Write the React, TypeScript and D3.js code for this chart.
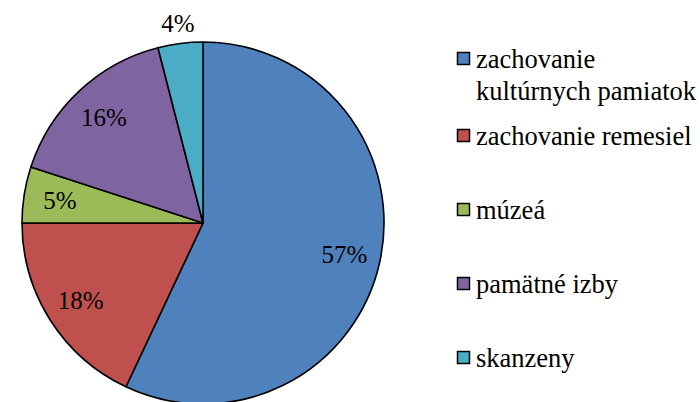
import React, { useEffect, useRef } from "react";
import * as d3 from "d3";

// chart data
const categories = [
  "zachovanie kultúrnych pamiatok",
  "zachovanie remesiel",
  "múzeá",
  "pamätné izby",
  "skanzeny",
];
const legendLines = [
  ["zachovanie", "kultúrnych pamiatok"],
  ["zachovanie remesiel"],
  ["múzeá"],
  ["pamätné izby"],
  ["skanzeny"],
];
const values = [57, 18, 5, 16, 4];
const colors = ["#4F81BD", "#C0504D", "#9BBB59", "#8064A2", "#4BACC6"];

const App = () => {
  const svgRef = useRef<SVGSVGElement>(null);

  useEffect(() => {
    document.body.style.margin = "0";
    const width = 700;
    const height = 402;
    const cx = 203;
    const cy = 223;
    const r = 181;
    const font = "Liberation Serif";

    const svg = d3.select(svgRef.current);
    svg.selectAll("*").remove();
    svg.attr("width", width).attr("height", height);

    const data = categories.map((c, i) => ({ name: c, value: values[i], color: colors[i] }));
    const pie = d3
      .pie<any>()
      .sort(null)
      .value((d) => d.value);
    const arcs = pie(data);

    const arc = d3.arc<any>().innerRadius(0).outerRadius(r);
    const labelArc = d3.arc<any>().innerRadius(r * 0.8).outerRadius(r * 0.8);
    const outerArc = d3.arc<any>().innerRadius(r + 20).outerRadius(r + 20);

    const g = svg.append("g").attr("transform", `translate(${cx},${cy})`);

    g.selectAll("path.slice")
      .data(arcs)
      .enter()
      .append("path")
      .attr("class", "slice")
      .attr("d", arc)
      .attr("fill", (d) => d.data.color)
      .attr("stroke", "#000")
      .attr("stroke-width", 1.6)
      .attr("stroke-linejoin", "round");

    // percentage labels (small slice label goes outside)
    g.selectAll("text.lbl")
      .data(arcs)
      .enter()
      .append("text")
      .attr("class", "lbl")
      .attr("transform", (d) => {
        const [x, y] = d.data.value < 5 ? outerArc.centroid(d) : labelArc.centroid(d);
        return `translate(${x},${y})`;
      })
      .attr("text-anchor", "middle")
      .attr("dy", "0.34em")
      .attr("font-family", font)
      .attr("font-size", 25)
      .attr("fill", "#000")
      .text((d) => `${d.data.value}%`);

    // legend
    const legend = svg.append("g").attr("transform", "translate(457,0)");
    const rowY = (i: number) => (i === 0 ? 59 : 62 + 74 * i);
    legendLines.forEach((lines, i) => {
      const y = rowY(i);
      legend
        .append("rect")
        .attr("x", 0.5)
        .attr("y", y - 6.5)
        .attr("width", 12)
        .attr("height", 12)
        .attr("fill", colors[i])
        .attr("stroke", "#000")
        .attr("stroke-width", 1.5);
      const t = legend
        .append("text")
        .attr("x", 19)
        .attr("y", y + 9)
        .attr("font-family", font)
        .attr("font-size", 26.5)
        .attr("fill", "#000");
      lines.forEach((line, j) => {
        t.append("tspan")
          .attr("x", 19)
          .attr("dy", j === 0 ? 0 : 32)
          .text(line);
      });
    });
  }, []);

  return <svg ref={svgRef} style={{ display: "block" }}></svg>;
};

export default App;
